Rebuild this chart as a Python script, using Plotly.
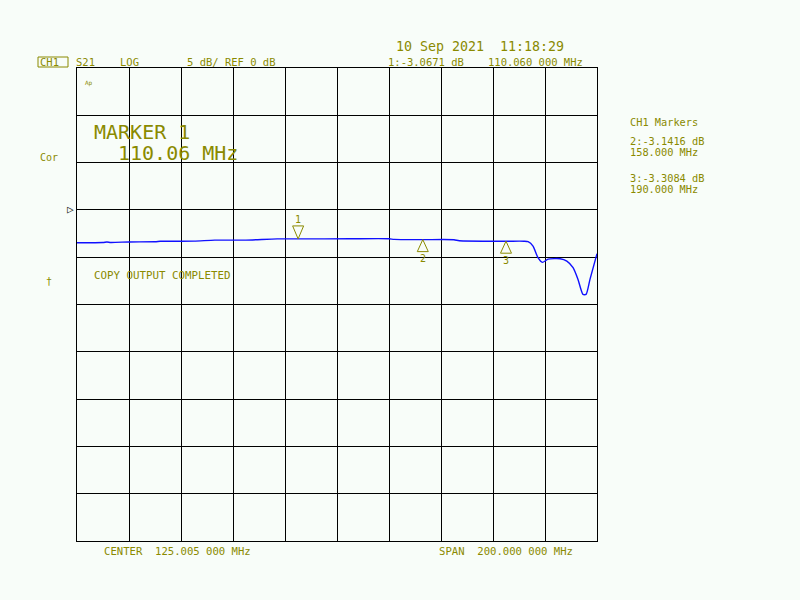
import plotly.graph_objects as go

# ---- data ----
freq_mhz = [25.005, 35.0, 36.5, 38.0, 45.0, 55.0, 57.0, 58.5, 70.0, 78.0, 90.0, 102.0,
            110.06, 130.0, 145.0, 147.0, 158.0, 170.0, 172.0, 190.0, 197.0, 198.5,
            200.4, 202.3, 204.0, 206.2, 210.8, 213.4, 215.8, 217.7, 219.6, 220.8,
            222.3, 225.005]
s21_db = [-3.47, -3.45, -3.40, -3.44, -3.39, -3.37, -3.32, -3.32, -3.30, -3.20, -3.19,
          -3.06, -3.067, -3.05, -3.05, -3.12, -3.1416, -3.15, -3.26, -3.3084, -3.31,
          -3.36, -3.83, -5.05, -5.55, -5.20, -5.16, -5.41, -6.11, -7.35, -8.93, -8.93,
          -7.35, -4.63]

marker_ids = ["1", "2", "3"]
marker_freq = [110.06, 158.0, 190.0]
marker_db = [-3.0671, -3.1416, -3.3084]

center_mhz = 125.005
span_mhz = 200.0
ref_db = 0.0
scale_db = 5.0
ref_div_from_top = 3

x_min = center_mhz - span_mhz / 2
x_max = center_mhz + span_mhz / 2
y_max = ref_db + scale_db * ref_div_from_top
y_min = y_max - scale_db * 10

TXT = "#8a8a00"
BG = "#f8fdf9"
FONT = "DejaVu Sans Mono"

# plot area in pixels
L, R, T, B = 77, 597, 68, 541
W, H = 800, 600


def px(X):
    return (X - L) / (R - L)


def py(Y):
    return (B - Y) / (B - T)


fig = go.Figure()
fig.add_trace(go.Scatter(x=freq_mhz, y=s21_db, mode="lines",
                         line=dict(color="#1010ff", width=1.4, shape="spline", smoothing=0.6),
                         hoverinfo="skip", showlegend=False))

annotations = []


def txt(X, Y, s, size=10.5, color=TXT, xanchor="left"):
    annotations.append(dict(x=px(X), y=py(Y), xref="paper", yref="paper", text=s,
                            showarrow=False, xanchor=xanchor, yanchor="middle",
                            font=dict(family=FONT, size=size, color=color)))


# header
txt(38, 62, "CH1", size=10.5)
txt(74, 62, "S21", size=10.5)
txt(118, 62, "LOG", size=10.5)
txt(185, 62, "5 dB/ REF 0 dB", size=10.5)
txt(394, 47, "10 Sep 2021  11:18:29", size=13.3)
txt(386, 62, "1:-3.0671 dB", size=10.5)
txt(486, 62, "110.060 000 MHz", size=10.5)
# right side markers list
txt(628, 122, "CH1 Markers", size=10.3)
txt(628, 141, "2:-3.1416 dB", size=10.3)
txt(628, 152, "158.000 MHz", size=10.3)
txt(628, 178, "3:-3.3084 dB", size=10.3)
txt(628, 189, "190.000 MHz", size=10.3)
# left side
txt(38, 157, "Cor", size=10)
txt(44, 281, "†", size=10)
txt(83, 83, "Ap", size=6)
# in-grid messages
txt(92, 132, "MARKER 1", size=20)
txt(116, 153, "110.06 MHz", size=20)
txt(92, 275, "COPY OUTPUT COMPLETED", size=10.8)
# bottom
txt(102, 551, "CENTER  125.005 000 MHz", size=10.6)
txt(437, 551, "SPAN  200.000 000 MHz", size=10.6)

# reference level indicator
annotations.append(dict(x=0, y=ref_db, xref="paper", yref="y", text="▷", showarrow=False,
                        xanchor="right", yanchor="middle", xshift=-1,
                        font=dict(family=FONT, size=11, color="#222222")))

shapes = []
# CH1 box
shapes.append(dict(type="rect", xref="paper", yref="paper",
                   x0=px(38), x1=px(68), y0=py(67), y1=py(57),
                   line=dict(color=TXT, width=1)))

# marker triangles (anchored on marker data, sized in pixels)
for mid, mf, md in zip(marker_ids, marker_freq, marker_db):
    if mid == "1":
        path = "M0,0 L-5.5,13 L5.5,13 Z"
        ys = 19
    else:
        path = "M0,0 L-5.5,-12 L5.5,-12 Z"
        ys = -19
    shapes.append(dict(type="path", xref="x", yref="y", xsizemode="pixel", ysizemode="pixel",
                       xanchor=mf, yanchor=md, path=path, line=dict(color=TXT, width=1)))
    annotations.append(dict(x=mf, y=md, xref="x", yref="y", text=mid, showarrow=False,
                            yshift=ys, xanchor="center", yanchor="middle",
                            font=dict(family=FONT, size=10, color=TXT)))

fig.update_layout(
    width=W, height=H,
    margin=dict(l=L, r=W - R, t=T, b=H - B, pad=0),
    paper_bgcolor=BG, plot_bgcolor=BG,
    annotations=annotations, shapes=shapes,
    xaxis=dict(range=[x_min, x_max], tick0=x_min, dtick=span_mhz / 10, showgrid=True,
               gridcolor="black", gridwidth=1, showticklabels=False, zeroline=False,
               showline=True, linecolor="black", linewidth=1, mirror=True, ticks=""),
    yaxis=dict(range=[y_min, y_max], tick0=y_min, dtick=scale_db, showgrid=True,
               gridcolor="black", gridwidth=1, showticklabels=False, zeroline=False,
               showline=True, linecolor="black", linewidth=1, mirror=True, ticks=""),
)

fig.write_html(
    "out.html",
    config={"displayModeBar": False, "staticPlot": True},
    post_script="document.body.style.margin='0';document.body.style.background='%s';" % BG,
)
